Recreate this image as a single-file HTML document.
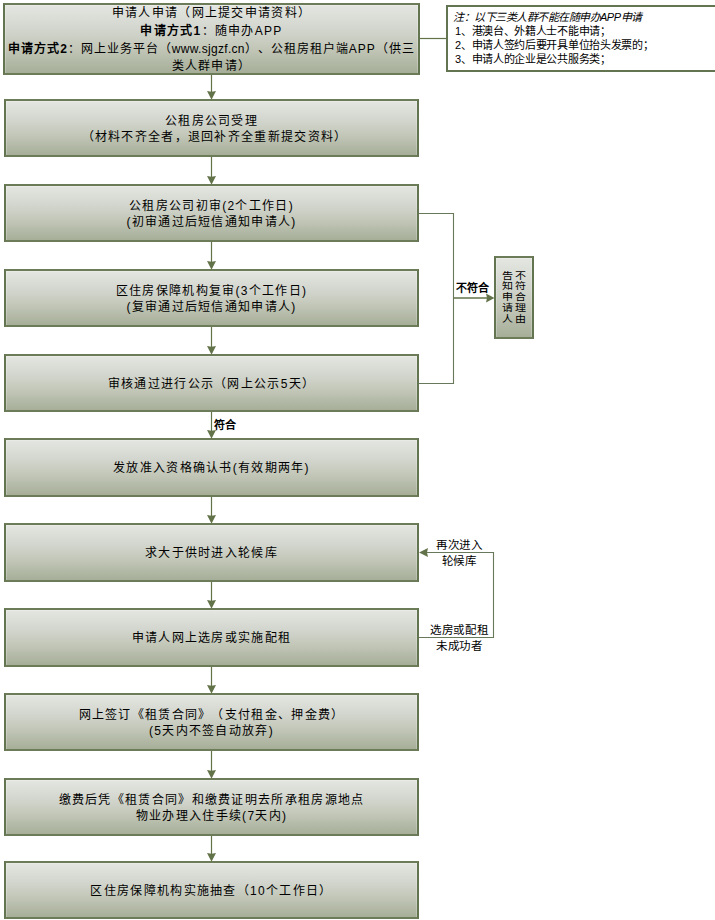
<!DOCTYPE html><html lang="zh-CN"><head><meta charset="utf-8"><style>
*{margin:0;padding:0;box-sizing:border-box}
html,body{width:715px;height:920px;background:#fff;overflow:hidden}
body{position:relative;font-family:"Liberation Sans",sans-serif;color:#000;text-spacing-trim:space-all}
.b{position:absolute;border:2px solid #637450;border-top-color:#6c7b58;border-bottom-color:#6c7b58;background:linear-gradient(#e4e6e1,#d3d6ce 35%,#c5c9bb 60%,#a6ae98);
 box-shadow:inset 1px 1px 0 rgba(255,255,255,.22),inset -1px 0 0 rgba(255,255,255,.22);display:flex;flex-direction:column;justify-content:center;align-items:center;
 font-size:12px;line-height:16.5px;letter-spacing:1.3px;text-align:center;white-space:nowrap;padding-top:2px}
svg{position:absolute;left:0;top:0}
.t{position:absolute;white-space:nowrap;font-size:11px;line-height:15px;letter-spacing:0.6px;text-align:center}
b{font-weight:bold}
</style></head><body>
<div class="b" style="left:3px;top:3px;width:417px;height:72px;line-height:17.6px;padding-top:3px"><div>申请人申请（网上提交申请资料）</div><div><b>申请方式1</b>：随申办APP</div><div style="letter-spacing:1px"><b>申请方式2</b>：网上业务平台（<span style="letter-spacing:0.3px">www.sjgzf.cn</span>）、公租房租户端APP（供三</div><div>类人群申请）</div></div>
<div class="b" style="left:4px;top:99px;width:415px;height:58px"><div>公租房公司受理</div><div><span style="padding-left:6px">（材料不齐全者，退回补齐全重新提交资料）</span></div></div>
<div class="b" style="left:4px;top:184px;width:415px;height:58px"><div>公租房公司初审(2个工作日)</div><div>(初审通过后短信通知申请人)</div></div>
<div class="b" style="left:4px;top:269px;width:415px;height:58px"><div>区住房保障机构复审(3个工作日)</div><div>(复审通过后短信通知申请人)</div></div>
<div class="b" style="left:4px;top:354px;width:415px;height:58px"><div>审核通过进行公示（网上公示5天）</div></div>
<div class="b" style="left:4px;top:438px;width:415px;height:59px"><div>发放准入资格确认书(有效期两年)</div></div>
<div class="b" style="left:4px;top:523px;width:415px;height:59px"><div>求大于供时进入轮候库</div></div>
<div class="b" style="left:4px;top:608px;width:415px;height:59px"><div>申请人网上选房或实施配租</div></div>
<div class="b" style="left:4px;top:693px;width:415px;height:58px"><div>网上签订《租赁合同》（支付租金、押金费）</div><div>(5天内不签自动放弃)</div></div>
<div class="b" style="left:4px;top:778px;width:415px;height:58px"><div>缴费后凭《租赁合同》和缴费证明去所承租房源地点</div><div>物业办理入住手续(7天内)</div></div>
<div class="b" style="left:4px;top:861px;width:415px;height:58px"><div>区住房保障机构实施抽查（10个工作日）</div></div>
<svg width="715" height="920" viewBox="0 0 715 920"><line x1="211.5" y1="75" x2="211.5" y2="93" stroke="#627349" stroke-width="1.2"/><path d="M207.0 91 L211.5 91.8 L216.0 91 L211.5 99.7 Z" fill="#627349"/><line x1="211.5" y1="157" x2="211.5" y2="178" stroke="#627349" stroke-width="1.2"/><path d="M207.0 176 L211.5 176.8 L216.0 176 L211.5 184.7 Z" fill="#627349"/><line x1="211.5" y1="242" x2="211.5" y2="263" stroke="#627349" stroke-width="1.2"/><path d="M207.0 261 L211.5 261.8 L216.0 261 L211.5 269.7 Z" fill="#627349"/><line x1="211.5" y1="327" x2="211.5" y2="348" stroke="#627349" stroke-width="1.2"/><path d="M207.0 346 L211.5 346.8 L216.0 346 L211.5 354.7 Z" fill="#627349"/><line x1="211.5" y1="412" x2="211.5" y2="432" stroke="#627349" stroke-width="1.2"/><path d="M207.0 430 L211.5 430.8 L216.0 430 L211.5 438.7 Z" fill="#627349"/><line x1="211.5" y1="497" x2="211.5" y2="517" stroke="#627349" stroke-width="1.2"/><path d="M207.0 515 L211.5 515.8 L216.0 515 L211.5 523.7 Z" fill="#627349"/><line x1="211.5" y1="582" x2="211.5" y2="602" stroke="#627349" stroke-width="1.2"/><path d="M207.0 600 L211.5 600.8 L216.0 600 L211.5 608.7 Z" fill="#627349"/><line x1="211.5" y1="667" x2="211.5" y2="687" stroke="#627349" stroke-width="1.2"/><path d="M207.0 685 L211.5 685.8 L216.0 685 L211.5 693.7 Z" fill="#627349"/><line x1="211.5" y1="751" x2="211.5" y2="772" stroke="#627349" stroke-width="1.2"/><path d="M207.0 770 L211.5 770.8 L216.0 770 L211.5 778.7 Z" fill="#627349"/><line x1="211.5" y1="836" x2="211.5" y2="855" stroke="#627349" stroke-width="1.2"/><path d="M207.0 853 L211.5 853.8 L216.0 853 L211.5 861.7 Z" fill="#627349"/><polyline points="419,213.5 453.5,213.5 453.5,383.5 419,383.5" fill="none" stroke="#68785a" stroke-width="1.1"/><line x1="453.5" y1="298" x2="488" y2="298" stroke="#627349" stroke-width="1.5"/><path d="M486 293.5 L494.5 298 L486 302.5 L487 298 Z" fill="#627349"/><polyline points="419,637.5 493.5,637.5 493.5,552.5 426,552.5" fill="none" stroke="#68785a" stroke-width="1.1"/><path d="M428 548 L419 552.5 L428 557 L427 552.5 Z" fill="#627349"/><line x1="419" y1="38.5" x2="447" y2="38.5" stroke="#627349" stroke-width="1.2"/></svg>
<div style="position:absolute;left:446px;top:5px;width:280px;height:67px;border:2px solid #637450;background:#fff;font-size:11px;line-height:13.9px;padding:4px 0 0 5px;white-space:nowrap"><div style="font-style:italic;letter-spacing:-0.5px">注：以下三类人群不能在随申办APP申请</div><div style="padding-left:2px;letter-spacing:-0.3px">1、港澳台、外籍人士不能申请；</div><div style="padding-left:2px;letter-spacing:-0.3px">2、申请人签约后要开具单位抬头发票的；</div><div style="padding-left:2px;letter-spacing:-0.3px">3、申请人的企业是公共服务类；</div></div>
<div class="b" style="left:494px;top:256px;width:40px;height:83px;display:block"></div>
<div style="position:absolute;left:498px;top:270px;width:28px;height:62px;font-size:11px;line-height:13.3px;letter-spacing:1.6px;writing-mode:vertical-rl;transform:scaleY(0.86);transform-origin:0 0;white-space:nowrap">不符合理由<br>告知申请人</div>
<div class="t" style="left:456px;top:281px;font-weight:bold;letter-spacing:0">不符合</div>
<div class="t" style="left:214px;top:417.5px;font-weight:bold;letter-spacing:0">符合</div>
<div class="t" style="left:424px;top:538px;width:70px;font-size:11.5px;letter-spacing:0.7px;line-height:15.8px;padding-left:0.7px">再次进入<br>轮候库</div>
<div class="t" style="left:422px;top:622px;width:74px;font-size:11.5px;letter-spacing:0.7px;line-height:16.2px;padding-left:0.7px">选房或配租<br>未成功者</div>
</body></html>
